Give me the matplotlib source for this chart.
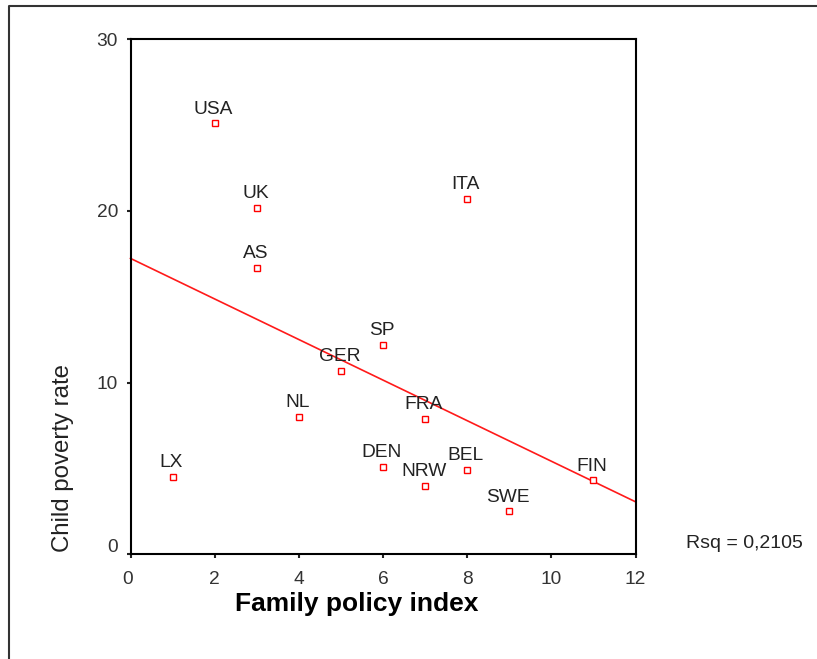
import numpy as np
import matplotlib
matplotlib.use("Agg")
import matplotlib.pyplot as plt
from matplotlib.lines import Line2D
from matplotlib.transforms import ScaledTranslation

countries = ["USA", "UK", "AS", "ITA", "SP", "GER", "NL", "FRA", "DEN", "NRW", "BEL", "SWE", "FIN", "LX"]
family_policy = [2, 3, 3, 8, 6, 5, 4, 7, 6, 7, 8, 9, 11, 1]
child_poverty = [25.1, 20.2, 16.7, 20.7, 12.2, 10.7, 8.0, 7.9, 5.1, 4.0, 4.9, 2.5, 4.3, 4.5]
x_ticks = [0, 2, 4, 6, 8, 10, 12]
y_ticks = [0, 10, 20, 30]
rsq_label = "Rsq = 0,2105"

plt.rcParams['font.family'] = ['Liberation Sans', 'DejaVu Sans']

W, H = 817, 659
fig = plt.figure(figsize=(W / 100, H / 100), dpi=100)
ax = fig.add_axes([130.5 / W, 1 - 554.3 / H, 505 / W, 515 / H])

x = np.array(family_policy, dtype=float)
y = np.array(child_poverty, dtype=float)
slope, intercept = np.polyfit(x, y, 1)
xl = np.array([0, 12])
ax.plot(xl, intercept + slope * xl, color='#ff1a1a', lw=1.2, zorder=2, clip_on=False)

ax.plot(x, y, linestyle='none', marker='s', markersize=4.2, mfc='white',
        mec='#ff0000', mew=1.0, zorder=3)
for c, xi, yi in zip(countries, x, y):
    ax.annotate(c, (xi, yi), xytext=(-1, 7), textcoords='offset points',
                ha='center', va='baseline', fontsize=13.8, color='#222222')

ax.set_xlim(0, 12)
ax.set_ylim(0, 30)
ax.set_xticks(x_ticks)
ax.set_yticks(y_ticks)
ax.tick_params(axis='both', direction='out', length=3, width=1.5, color='#222222',
               labelsize=13.8, labelcolor='#333333')
ax.tick_params(axis='x', pad=9)
ax.tick_params(axis='y', pad=6)
for s in ax.spines.values():
    s.set_linewidth(1.5)
    s.set_color('black')

# shift the "0" y label up a bit
fig.canvas.draw()
lab0 = ax.get_yticklabels()[0]
lab0.set_transform(lab0.get_transform() + ScaledTranslation(0, 9 / 100, fig.dpi_scale_trans))
labx0 = ax.get_xticklabels()[0]
labx0.set_transform(labx0.get_transform() + ScaledTranslation(-3 / 100, 0, fig.dpi_scale_trans))

fig.text(357 / W, 1 - 604 / H, "Family policy index", ha='center', va='center',
         fontsize=19, fontweight='bold', color='black')
fig.text(63 / W, 1 - 458 / H, "Child poverty rate", ha='center', va='center',
         rotation=90, fontsize=17.3, color='#222222')
fig.text(686 / W, 1 - 543 / H, rsq_label, ha='left', va='center',
         fontsize=14, color='#222222')

# outer frame (top and left edges visible)
fig.add_artist(Line2D([9.3 / W, 9.3 / W, 1.0], [0.0, 1 - 5.5 / H, 1 - 5.5 / H],
                      transform=fig.transFigure, color='#333333', lw=1.5))

fig.savefig("out.png", dpi=100)
